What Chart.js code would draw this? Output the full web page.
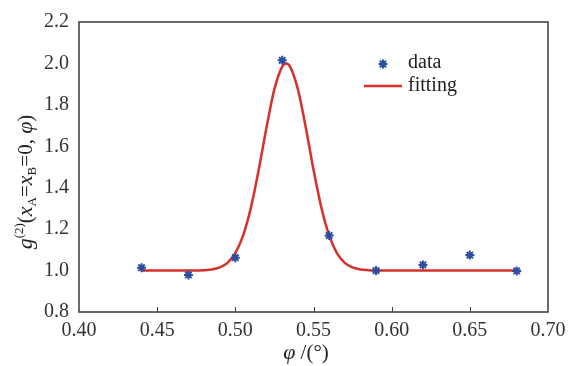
<!DOCTYPE html>
<html>
<head>
<meta charset="utf-8">
<script src="https://cdn.jsdelivr.net/npm/chart.js@4"></script>
<style>
  html, body { margin: 0; padding: 0; background: #fff; }
  #wrap { width: 568px; height: 366px; }
</style>
</head>
<body>
<div id="wrap"><canvas id="gChart" width="568" height="366"></canvas></div>
<script>
// measured points
const dataX = [0.44, 0.47, 0.50, 0.53, 0.56, 0.59, 0.62, 0.65, 0.68];
const dataY = [1.014, 0.979, 1.062, 2.015, 1.169, 1.000, 1.027, 1.075, 0.998];

// fitted curve
const fitX = [0.44, 0.46, 0.48, 0.485, 0.49, 0.495, 0.50, 0.505, 0.51, 0.515, 0.52, 0.525, 0.53, 0.5325,
  0.535, 0.54, 0.545, 0.55, 0.555, 0.56, 0.565, 0.57, 0.575, 0.58, 0.585, 0.60, 0.64, 0.68];
const fitY = [1.000, 1.000, 1.002, 1.005, 1.015, 1.037, 1.084, 1.170, 1.305, 1.488, 1.693, 1.876, 1.985, 2.000,
  1.985, 1.876, 1.693, 1.488, 1.305, 1.170, 1.084, 1.037, 1.015, 1.005, 1.002, 1.000, 1.000, 1.000];

const xTicks = [0.40, 0.45, 0.50, 0.55, 0.60, 0.65, 0.70];
const yTicks = [0.8, 1.0, 1.2, 1.4, 1.6, 1.8, 2.0, 2.2];

const serif = "'Liberation Serif', 'DejaVu Serif', serif";
const axisColor = '#3a3a3a';
const dotColor = '#2b4e9e';
const lineColor = '#d8302a';

// box, inward ticks, axis titles and legend
const decor = {
  id: 'decor',
  afterDraw(chart) {
    const c = chart.ctx;
    const a = chart.chartArea;
    const xs = chart.scales.x;
    c.save();
    c.strokeStyle = axisColor;
    c.lineWidth = 1.5;
    c.strokeRect(a.left, a.top, a.right - a.left, a.bottom - a.top);
    c.lineWidth = 1;
    xTicks.slice(1, -1).forEach(v => {
      const px = Math.round(xs.getPixelForValue(v)) + 0.5;
      c.beginPath(); c.moveTo(px, a.bottom); c.lineTo(px, a.bottom - 5); c.stroke();
    });

    // x title
    c.fillStyle = '#222';
    c.textBaseline = 'alphabetic';
    const xParts = [
      { t: 'φ', f: 'italic 22px ' + serif },
      { t: ' /(°)', f: '21px ' + serif }
    ];
    let w = 0;
    xParts.forEach(p => { c.font = p.f; w += c.measureText(p.t).width; });
    let x0 = 306 - w / 2;
    xParts.forEach(p => { c.font = p.f; c.fillText(p.t, x0, 359); x0 += c.measureText(p.t).width; });

    // y title, rotated
    const yParts = [
      { t: 'g', f: 'italic 22px ' + serif, dy: 0 },
      { t: '(2)', f: '13px ' + serif, dy: -9 },
      { t: '(', f: '21px ' + serif, dy: 0 },
      { t: 'x', f: 'italic 22px ' + serif, dy: 0 },
      { t: 'A', f: '13px ' + serif, dy: 4 },
      { t: '=', f: '21px ' + serif, dy: 0 },
      { t: 'x', f: 'italic 22px ' + serif, dy: 0 },
      { t: 'B', f: '13px ' + serif, dy: 4 },
      { t: '=0, ', f: '21px ' + serif, dy: 0 },
      { t: 'φ', f: 'italic 22px ' + serif, dy: 0 },
      { t: ')', f: '21px ' + serif, dy: 0 }
    ];
    w = 0;
    yParts.forEach(p => { c.font = p.f; w += c.measureText(p.t).width; });
    c.translate(32, 182);
    c.rotate(-Math.PI / 2);
    x0 = -w / 2;
    yParts.forEach(p => { c.font = p.f; c.fillText(p.t, x0, p.dy); x0 += c.measureText(p.t).width; });
    c.setTransform(1, 0, 0, 1, 0, 0);

    // legend
    const ds0 = chart.data.datasets[0], ds1 = chart.data.datasets[1];
    c.strokeStyle = ds0.borderColor;
    c.fillStyle = ds0.backgroundColor;
    c.lineWidth = 2;
    Chart.helpers.drawPoint(c, { pointStyle: 'star', radius: 4.5, borderWidth: 2 }, 383, 64);
    c.strokeStyle = ds1.borderColor;
    c.lineWidth = 2.5;
    c.beginPath(); c.moveTo(364, 86); c.lineTo(402, 86); c.stroke();
    c.fillStyle = '#222';
    c.font = '20px ' + serif;
    c.textBaseline = 'middle';
    c.fillText(ds0.label, 408, 63);
    c.fillText(ds1.label, 408, 86);
    c.restore();
  }
};

const ctx = document.getElementById('gChart').getContext('2d');
const chart = new Chart(ctx, {
  type: 'scatter',
  data: {
    datasets: [{
      label: 'data',
      data: dataX.map((x, i) => ({ x: x, y: dataY[i] })),
      pointStyle: 'star',
      pointRadius: 4.5,
      borderColor: dotColor,
      backgroundColor: dotColor,
      borderWidth: 2,
      showLine: false,
      order: 0
    }, {
      label: 'fitting',
      data: fitX.map((x, i) => ({ x: x, y: fitY[i] })),
      showLine: true,
      pointRadius: 0,
      borderColor: lineColor,
      borderWidth: 2.5,
      cubicInterpolationMode: 'monotone',
      order: 1
    }]
  },
  options: {
    responsive: false,
    animation: false,
    layout: { padding: { top: 22, right: 20, left: 0, bottom: 0 } },
    plugins: { legend: { display: false }, tooltip: { enabled: false } },
    scales: {
      x: {
        type: 'linear',
        min: 0.40,
        max: 0.70,
        afterBuildTicks: s => { s.ticks = xTicks.map(v => ({ value: v })); },
        afterFit: s => { s.height = 54; s.paddingLeft = 0; s.paddingRight = 0; },
        grid: { display: false, drawTicks: false },
        border: { display: false },
        ticks: {
          padding: 7,
          color: '#333',
          font: { family: serif, size: 20 },
          callback: v => v.toFixed(2),
          maxRotation: 0
        }
      },
      y: {
        min: 0.8,
        max: 2.2,
        afterBuildTicks: s => { s.ticks = yTicks.map(v => ({ value: v })); },
        afterFit: s => { s.width = 79; s.paddingTop = 0; s.paddingBottom = 0; },
        grid: { display: false, drawTicks: false },
        border: { display: false },
        ticks: {
          padding: 10,
          color: '#333',
          font: { family: serif, size: 20 },
          callback: v => v.toFixed(1)
        }
      }
    }
  },
  plugins: [decor]
});
</script>
</body>
</html>
